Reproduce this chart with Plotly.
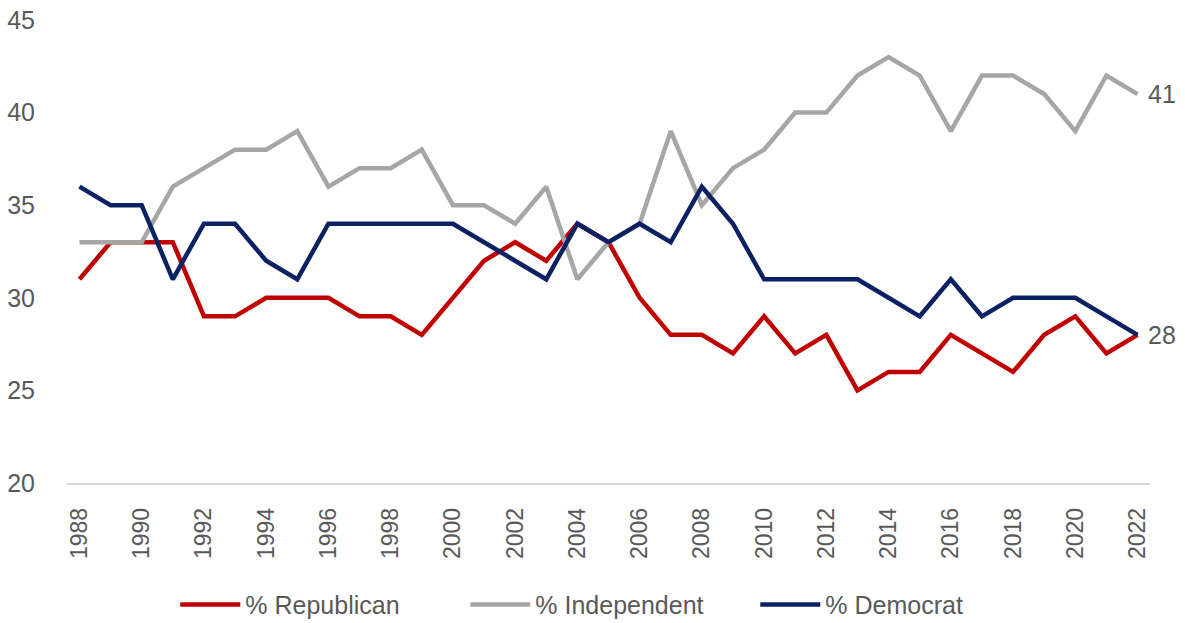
import plotly.graph_objects as go

years = list(range(1988, 2023))
republican = [31, 33, 33, 33, 29, 29, 30, 30, 30, 29, 29, 28, 30, 32, 33, 32, 34, 33,
              30, 28, 28, 27, 29, 27, 28, 25, 26, 26, 28, 27, 26, 28, 29, 27, 28]
independent = [33, 33, 33, 36, 37, 38, 38, 39, 36, 37, 37, 38, 35, 35, 34, 36, 31, 33,
               34, 39, 35, 37, 38, 40, 40, 42, 43, 42, 39, 42, 42, 41, 39, 42, 41]
democrat = [36, 35, 35, 31, 34, 34, 32, 31, 34, 34, 34, 34, 34, 33, 32, 31, 34, 33,
            34, 33, 36, 34, 31, 31, 31, 31, 30, 29, 31, 29, 30, 30, 30, 29, 28]
x_ticks = list(range(1988, 2023, 2))

FONT = "Liberation Sans, Arial, sans-serif"
TXT = "#595959"

fig = go.Figure()
fig.add_trace(go.Scatter(x=years, y=republican, name="% Republican", mode="lines",
                         line=dict(color="#C00000", width=4.5)))
fig.add_trace(go.Scatter(x=years, y=independent, name="% Independent", mode="lines",
                         line=dict(color="#A6A6A6", width=4.5)))
fig.add_trace(go.Scatter(x=years, y=democrat, name="% Democrat", mode="lines",
                         line=dict(color="#0A2263", width=4.5)))

fig.add_annotation(x=years[-1], y=independent[-1], text=str(independent[-1]), showarrow=False,
                   xanchor="left", xshift=8, font=dict(size=25, color=TXT, family=FONT))
fig.add_annotation(x=years[-1], y=democrat[-1], text=str(democrat[-1]), showarrow=False,
                   xanchor="left", xshift=8, font=dict(size=25, color=TXT, family=FONT))

fig.update_layout(
    width=1185, height=623,
    margin=dict(l=67, r=35, t=20, b=140, autoexpand=False),
    paper_bgcolor="white", plot_bgcolor="white",
    font=dict(family=FONT, color=TXT, size=24),
    showlegend=True,
    legend=dict(orientation="h", x=0.1, xanchor="left", y=-0.263, yanchor="middle",
                font=dict(size=25, color=TXT, family=FONT), itemwidth=60,
                traceorder="normal", entrywidth=215, entrywidthmode="pixels"),
    xaxis=dict(range=[1987.6, 2022.4], tickmode="array", tickvals=x_ticks,
               ticktext=[str(v) for v in x_ticks], tickangle=-90, showgrid=False,
               zeroline=False, showline=True, linecolor="#D9D9D9", linewidth=1.5,
               ticks="outside", ticklen=14, tickcolor="rgba(0,0,0,0)",
               tickfont=dict(size=23, color=TXT)),
    yaxis=dict(range=[20, 45], tickvals=[20, 25, 30, 35, 40, 45], showgrid=False,
               zeroline=False, showline=False, ticks="outside", ticklen=26,
               tickcolor="rgba(0,0,0,0)", tickfont=dict(size=25, color=TXT)),
)

fig.write_html("out.html")
